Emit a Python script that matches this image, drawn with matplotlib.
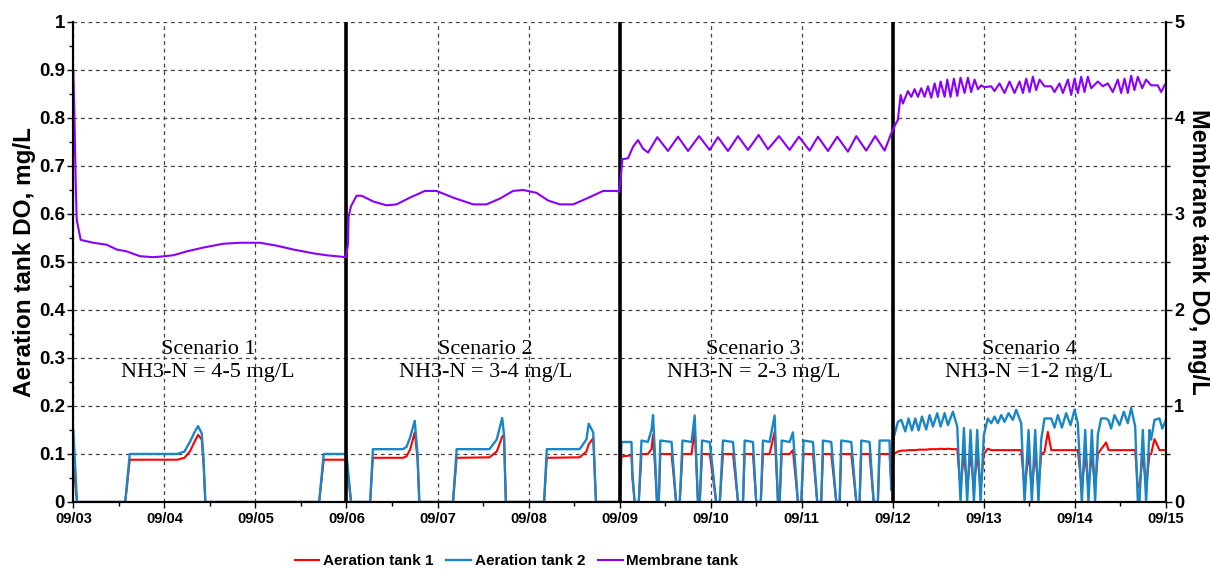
import matplotlib
matplotlib.use('Agg')
import matplotlib.pyplot as plt
import numpy as np

# time in days from 09/03 00:00
day_labels = ['09/03', '09/04', '09/05', '09/06', '09/07', '09/08', '09/09',
              '09/10', '09/11', '09/12', '09/13', '09/14', '09/15']

# aeration tanks (shared time stamps)
t_aer = [0.00, 0.04, 0.57, 0.62, 1.14, 1.22, 1.28, 1.33, 1.37, 1.41, 1.43, 1.45, 2.70, 2.75, 3.00, 3.05,
         3.26, 3.29, 3.62, 3.66, 3.70, 3.75, 3.78, 3.80, 4.17, 4.21, 4.57, 4.65, 4.71, 4.73, 4.75,
         5.17, 5.20, 5.56, 5.635, 5.66, 5.71, 5.74, 6.00,
         6.02, 6.13, 6.14, 6.165, 6.21, 6.24, 6.31, 6.35, 6.367, 6.39, 6.41, 6.43, 6.447, 6.57, 6.62,
         6.66, 6.69, 6.79, 6.824, 6.86, 6.88, 6.905, 6.99, 7.06, 7.10, 7.135, 7.245, 7.30, 7.355,
         7.373, 7.464, 7.50, 7.55, 7.574, 7.647, 7.702, 7.739, 7.757, 7.78, 7.867, 7.903, 7.958,
         7.995, 8.02, 8.123, 8.17, 8.214, 8.233, 8.324, 8.379, 8.416, 8.434, 8.544, 8.599, 8.635,
         8.654, 8.745, 8.79, 8.836, 8.855, 8.964,
         8.983, 9.012, 9.056, 9.093, 9.137, 9.173, 9.210, 9.247, 9.283, 9.320, 9.367, 9.404, 9.441,
         9.488, 9.525, 9.569, 9.605, 9.660, 9.708, 9.725, 9.744, 9.781, 9.817, 9.854, 9.891, 9.927,
         9.964, 10.000, 10.044, 10.081, 10.117, 10.154, 10.191, 10.227, 10.271, 10.319, 10.355,
         10.410, 10.447, 10.491, 10.527, 10.564, 10.600, 10.630, 10.666, 10.703, 10.740, 10.776,
         10.813, 10.857, 10.904, 10.952, 10.996, 11.032, 11.076, 11.113, 11.149, 11.186, 11.222,
         11.252, 11.288, 11.343, 11.37, 11.398, 11.435, 11.490, 11.537, 11.581, 11.618, 11.662,
         11.691, 11.709, 11.746, 11.782, 11.819, 11.837, 11.874, 11.929, 11.96, 12.0]

aer1 = [0.08, 0.0, 0.0, 0.088, 0.088, 0.092, 0.105, 0.125, 0.14, 0.13, 0.08, 0.0, 0.0, 0.088, 0.088, 0.0,
        0.0, 0.092, 0.092, 0.095, 0.11, 0.145, 0.09, 0.0, 0.0, 0.092, 0.093, 0.105, 0.136, 0.14, 0.0,
        0.0, 0.092, 0.093, 0.105, 0.12, 0.133, 0.0, 0.0,
        0.095, 0.097, 0.05, 0.0, 0.0, 0.1, 0.1, 0.11, 0.14, 0.07, 0.0, 0.0, 0.1, 0.1, 0.0,
        0.0, 0.1, 0.1, 0.153, 0.0, 0.0, 0.1, 0.1, 0.0, 0.0, 0.1, 0.1, 0.0, 0.0,
        0.1, 0.1, 0.0, 0.0, 0.1, 0.1, 0.146, 0.0, 0.0, 0.1, 0.1, 0.108, 0.0,
        0.0, 0.1, 0.1, 0.0, 0.0, 0.1, 0.1, 0.0, 0.0, 0.1, 0.1, 0.0, 0.0,
        0.1, 0.1, 0.0, 0.0, 0.1, 0.1,
        0.04, 0.1, 0.105, 0.107, 0.107, 0.108, 0.108, 0.108, 0.109, 0.109, 0.109, 0.11, 0.11,
        0.11, 0.111, 0.11, 0.111, 0.11, 0.11, 0.07, 0.03, 0.1, 0.03, 0.1, 0.03, 0.1,
        0.03, 0.1, 0.111, 0.108, 0.108, 0.108, 0.108, 0.108, 0.108, 0.108, 0.108,
        0.108, 0.03, 0.1, 0.03, 0.1, 0.03, 0.1, 0.104, 0.146, 0.108, 0.108,
        0.108, 0.108, 0.108, 0.108, 0.108, 0.108, 0.03, 0.1, 0.03, 0.1, 0.03,
        0.1, 0.11, 0.124, 0.108, 0.108, 0.108, 0.108, 0.108, 0.108, 0.108, 0.108,
        0.03, 0.03, 0.1, 0.03, 0.1, 0.1, 0.131, 0.108, 0.108, 0.108]

aer2 = [0.15, 0.0, 0.0, 0.10, 0.10, 0.105, 0.125, 0.145, 0.158, 0.143, 0.09, 0.0, 0.0, 0.10, 0.10, 0.0,
        0.0, 0.11, 0.11, 0.115, 0.135, 0.169, 0.10, 0.0, 0.0, 0.11, 0.11, 0.13, 0.175, 0.14, 0.0,
        0.0, 0.11, 0.11, 0.13, 0.163, 0.145, 0.0, 0.0,
        0.125, 0.125, 0.06, 0.0, 0.0, 0.128, 0.125, 0.15, 0.181, 0.09, 0.0, 0.0, 0.128, 0.125, 0.0,
        0.0, 0.128, 0.125, 0.18, 0.0, 0.0, 0.128, 0.125, 0.0, 0.0, 0.128, 0.125, 0.0, 0.0,
        0.128, 0.125, 0.0, 0.0, 0.128, 0.125, 0.18, 0.0, 0.0, 0.128, 0.125, 0.145, 0.0,
        0.0, 0.128, 0.125, 0.0, 0.0, 0.128, 0.125, 0.0, 0.0, 0.128, 0.125, 0.0, 0.0,
        0.128, 0.125, 0.0, 0.0, 0.128, 0.128,
        0.025, 0.136, 0.167, 0.171, 0.147, 0.174, 0.149, 0.174, 0.149, 0.178, 0.151, 0.181, 0.157,
        0.185, 0.157, 0.185, 0.16, 0.188, 0.157, 0.08, 0.0, 0.154, 0.0, 0.15, 0.0, 0.15,
        0.0, 0.14, 0.174, 0.164, 0.178, 0.164, 0.181, 0.167, 0.185, 0.171, 0.192,
        0.164, 0.0, 0.15, 0.0, 0.15, 0.0, 0.13, 0.174, 0.174, 0.174, 0.155,
        0.181, 0.155, 0.185, 0.16, 0.192, 0.164, 0.0, 0.15, 0.0, 0.15, 0.0,
        0.14, 0.174, 0.174, 0.17, 0.153, 0.181, 0.16, 0.188, 0.164, 0.196, 0.157,
        0.0, 0.0, 0.15, 0.0, 0.15, 0.13, 0.171, 0.174, 0.153, 0.171]

# membrane tank
t_mem = [0.000, 0.011, 0.026, 0.037, 0.081, 0.22, 0.366, 0.476, 0.586, 0.732, 0.878, 0.952, 1.098,
         1.244, 1.427, 1.647, 1.83, 2.05, 2.232, 2.415, 2.635, 2.781, 2.993,
         3.016, 3.023, 3.049, 3.111, 3.166, 3.294, 3.44, 3.55, 3.696, 3.861, 3.989, 4.172, 4.392,
         4.538, 4.684, 4.83, 4.94, 5.087, 5.215, 5.343, 5.49, 5.636, 5.819, 5.965, 5.994,
         6.008, 6.03, 6.092, 6.147, 6.202, 6.257, 6.312, 6.414, 6.531, 6.641, 6.751, 6.872, 6.989,
         7.080, 7.19, 7.30, 7.41, 7.527, 7.629, 7.750, 7.867, 7.969, 8.086, 8.178, 8.288, 8.39,
         8.507, 8.599, 8.708, 8.807, 8.91,
         8.983, 9.038, 9.056, 9.086, 9.111, 9.166, 9.203, 9.239, 9.276, 9.312, 9.349, 9.386, 9.422,
         9.459, 9.495, 9.525, 9.569, 9.598, 9.634, 9.671, 9.708, 9.744, 9.788, 9.825, 9.861, 9.898,
         9.935, 9.971, 10.008, 10.081, 10.117, 10.172, 10.227, 10.282, 10.337, 10.392,
         10.429, 10.465, 10.502, 10.538, 10.575, 10.612, 10.666, 10.74, 10.776, 10.831, 10.868,
         10.923, 10.959, 10.996, 11.032, 11.069, 11.105, 11.142, 11.179, 11.252, 11.307, 11.362,
         11.416, 11.471, 11.508, 11.545, 11.581, 11.618, 11.654, 11.691, 11.739, 11.782, 11.837,
         11.91, 11.947, 11.984, 12.0]

mem = [4.48, 4.08, 3.32, 2.94, 2.73, 2.70, 2.68, 2.63, 2.61, 2.56, 2.55, 2.555, 2.57,
       2.61, 2.65, 2.69, 2.70, 2.70, 2.67, 2.63, 2.59, 2.57, 2.55,
       2.68, 2.97, 3.08, 3.19, 3.19, 3.13, 3.09, 3.10, 3.17, 3.24, 3.24, 3.17, 3.10,
       3.10, 3.16, 3.24, 3.25, 3.22, 3.14, 3.10, 3.10, 3.16, 3.24, 3.24, 3.23,
       3.34, 3.57, 3.58, 3.70, 3.77, 3.68, 3.64, 3.80, 3.656, 3.805, 3.656, 3.811, 3.667,
       3.80, 3.656, 3.811, 3.667, 3.823, 3.674, 3.811, 3.667, 3.805, 3.66, 3.805, 3.656, 3.805,
       3.649, 3.811, 3.66, 3.811, 3.66,
       3.84, 3.95, 3.98, 4.24, 4.15, 4.28, 4.22, 4.30, 4.22, 4.31, 4.22, 4.33, 4.21,
       4.36, 4.22, 4.38, 4.22, 4.40, 4.22, 4.41, 4.23, 4.42, 4.26, 4.42, 4.27, 4.40,
       4.30, 4.34, 4.32, 4.33, 4.28, 4.36, 4.26, 4.38, 4.26, 4.38,
       4.26, 4.41, 4.27, 4.43, 4.29, 4.40, 4.33, 4.33, 4.27, 4.36, 4.26,
       4.40, 4.24, 4.41, 4.26, 4.43, 4.27, 4.43, 4.31, 4.38, 4.33, 4.36,
       4.27, 4.40, 4.26, 4.41, 4.26, 4.44, 4.29, 4.43, 4.31, 4.40, 4.34,
       4.34, 4.27, 4.34, 4.36]

scenario_text = ['Scenario 1\nNH3-N = 4-5 mg/L', 'Scenario 2\nNH3-N = 3-4 mg/L',
                 'Scenario 3\nNH3-N = 2-3 mg/L', 'Scenario 4\nNH3-N =1-2 mg/L']
scenario_center = [1.48, 4.53, 7.47, 10.5]
scenario_bounds = [3, 6, 9]

plt.rcParams['font.family'] = ['Liberation Sans', 'DejaVu Sans']
plt.rcParams['font.weight'] = 'bold'

fig = plt.figure(figsize=(12.1, 5.69), dpi=100)
ax = fig.add_axes([0.0606, 0.1178, 0.903, 0.8436])
ax2 = ax.twinx()

c_red = '#ff0000'
c_blue = '#1b86c6'
c_purple = '#8a00ff'

ax.plot(t_aer, aer1, color=c_red, lw=1.5, label='Aeration tank 1', zorder=3)
ax.plot(t_aer, aer2, color=c_blue, lw=1.7, label='Aeration tank 2', zorder=4)
ax2.plot(t_mem, mem, color=c_purple, lw=1.5, label='Membrane tank')

for b in scenario_bounds:
    ax.axvline(b, color='black', lw=2.6, zorder=5)

for txt, c in zip(scenario_text, scenario_center):
    ax.text(c, 0.293, txt, ha='center', va='center', fontsize=16, fontweight='normal',
            family='Liberation Serif', linespacing=1.3, zorder=6)

ax.set_xlim(0, 12)
ax.set_ylim(0, 1)
ax2.set_ylim(0, 5)

ax.set_xticks(np.arange(0, 13))
ax.set_xticklabels(day_labels)
ax.set_xticks(np.arange(0.5, 12, 1), minor=True)
ax.set_yticks(np.arange(0, 1.01, 0.1))
ax.set_yticklabels(['0', '0.1', '0.2', '0.3', '0.4', '0.5', '0.6', '0.7', '0.8', '0.9', '1'])
ax.set_yticks(np.arange(0.05, 1, 0.1), minor=True)
ax2.set_yticks(np.arange(0, 6, 1))
ax2.set_yticks(np.arange(0.5, 5, 1), minor=True)

ax.grid(True, which='major', color='0.25', linestyle=(0, (3, 3)), lw=0.9)
ax.set_axisbelow(True)

ax.tick_params(axis='x', which='major', labelsize=10.5, direction='out', length=4, width=1)
ax.tick_params(axis='x', which='minor', direction='out', length=3, width=1)
ax.tick_params(axis='y', which='major', labelsize=13.5, direction='out', length=4, width=1, pad=2)
ax.tick_params(axis='y', which='minor', direction='out', length=3, width=1)
ax2.tick_params(axis='y', which='major', labelsize=13, direction='out', length=4, width=1, pad=2)
ax2.tick_params(axis='y', which='minor', direction='out', length=3, width=1)

for a in (ax, ax2):
    a.spines['top'].set_visible(False)
    for s in ('left', 'right', 'bottom'):
        a.spines[s].set_linewidth(1.5)

ax.set_ylabel('Aeration tank DO, mg/L', fontsize=17.5, fontweight='bold', ha='center', va='center')
ax.yaxis.set_label_coords(-0.0445, 0.5)
ax2.set_ylabel('Membrane tank DO, mg/L', fontsize=17, fontweight='bold', rotation=270,
               ha='center', va='center')
ax2.yaxis.set_label_coords(1.0295, 0.52)

h1, l1 = ax.get_legend_handles_labels()
h2, l2 = ax2.get_legend_handles_labels()
fig.legend(h1 + h2, l1 + l2, loc='center', bbox_to_anchor=(0.427, 0.014), ncol=3, frameon=False,
           prop={'size': 11, 'weight': 'bold'}, handlelength=1.6, columnspacing=0.85, handletextpad=0.25)

plt.savefig('out.png', dpi=100)
